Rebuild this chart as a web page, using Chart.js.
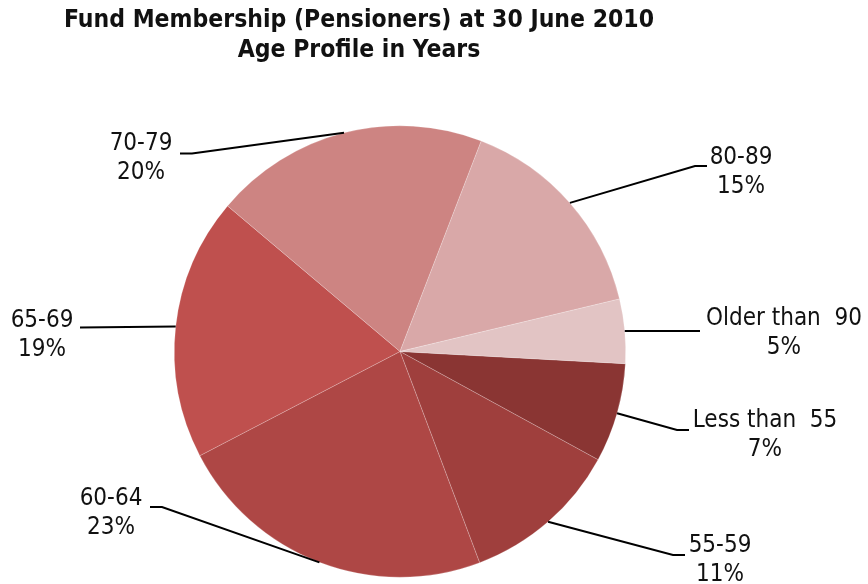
<!DOCTYPE html>
<html>
<head>
<meta charset="utf-8">
<script src="https://cdn.jsdelivr.net/npm/chart.js@4.4.0/dist/chart.umd.min.js"></script>
<style>
    body { margin: 0; background: #fff; }
    #wrap { width: 868px; height: 584px; }
</style>
</head>
<body>
<div id="wrap"><canvas id="pieChart" width="868" height="584"></canvas></div>
<script>
const categories = ['Less than  55', '55-59', '60-64', '65-69', '70-79', '80-89', 'Older than  90'];
const shares = [7.1, 11.3, 23.1, 18.8, 19.7, 15.4, 4.6];
const sliceColors = ['#8A3533', '#9F3F3D', '#AE4745', '#BF504E', '#CD8482', '#D9A8A8', '#E2C4C4'];
const titleLines = ['Fund Membership (Pensioners) at 30 June 2010', 'Age Profile in Years'];

// elbow of each leader line, then where the label text sits
const labelLayout = [
    { elbow: [677, 430], end: [689, 430], text: [765, 421] },
    { elbow: [673, 555], end: [685, 555], text: [720, 546] },
    { elbow: [162, 507], end: [150, 507], text: [111, 499] },
    { elbow: [80, 327.5], end: [80, 327.5], text: [42, 321] },
    { elbow: [192, 153.5], end: [180, 153.5], text: [141, 144] },
    { elbow: [695, 166], end: [707, 166], text: [741, 158] },
    { elbow: [700, 331], end: [700, 331], text: [784, 319] }
];

const labelFont = '24px "DejaVu Sans Condensed", "DejaVu Sans", sans-serif';

const leaderLabels = {
    id: 'leaderLabels',
    afterDraw(chart) {
        const ctx = chart.ctx;
        const meta = chart.getDatasetMeta(0);
        ctx.save();

        // title
        ctx.fillStyle = '#111';
        ctx.textAlign = 'center';
        ctx.textBaseline = 'middle';
        ctx.font = 'bold 24.5px "DejaVu Sans Condensed", "DejaVu Sans", sans-serif';
        ctx.fillText(titleLines[0], 359, 21);
        ctx.fillText(titleLines[1], 359, 51);

        ctx.strokeStyle = '#000';
        ctx.lineWidth = 2;
        ctx.font = labelFont;
        meta.data.forEach((arc, i) => {
            const p = arc.getProps(['x', 'y', 'startAngle', 'endAngle', 'outerRadius'], true);
            const mid = (p.startAngle + p.endAngle) / 2;
            const sx = p.x + Math.cos(mid) * p.outerRadius;
            const sy = p.y + Math.sin(mid) * p.outerRadius;
            const lay = labelLayout[i];

            ctx.beginPath();
            ctx.moveTo(sx, sy);
            ctx.lineTo(lay.elbow[0], lay.elbow[1]);
            ctx.lineTo(lay.end[0], lay.end[1]);
            ctx.stroke();

            ctx.textAlign = 'center';
            ctx.fillText(categories[i], lay.text[0], lay.text[1]);
            ctx.fillText(Math.round(shares[i]) + '%', lay.text[0], lay.text[1] + 29);
        });
        ctx.restore();
    }
};

new Chart(document.getElementById('pieChart').getContext('2d'), {
    type: 'pie',
    data: {
        labels: categories,
        datasets: [{
            data: shares,
            backgroundColor: sliceColors,
            borderColor: 'rgba(255, 255, 255, 0.35)',
            borderWidth: 0.6
        }]
    },
    options: {
        responsive: false,
        animation: false,
        rotation: 93.1,
        layout: {
            padding: { left: 174, right: 242, top: 125, bottom: 6 }
        },
        plugins: {
            legend: { display: false },
            tooltip: { enabled: false }
        }
    },
    plugins: [leaderLabels]
});
</script>
</body>
</html>
